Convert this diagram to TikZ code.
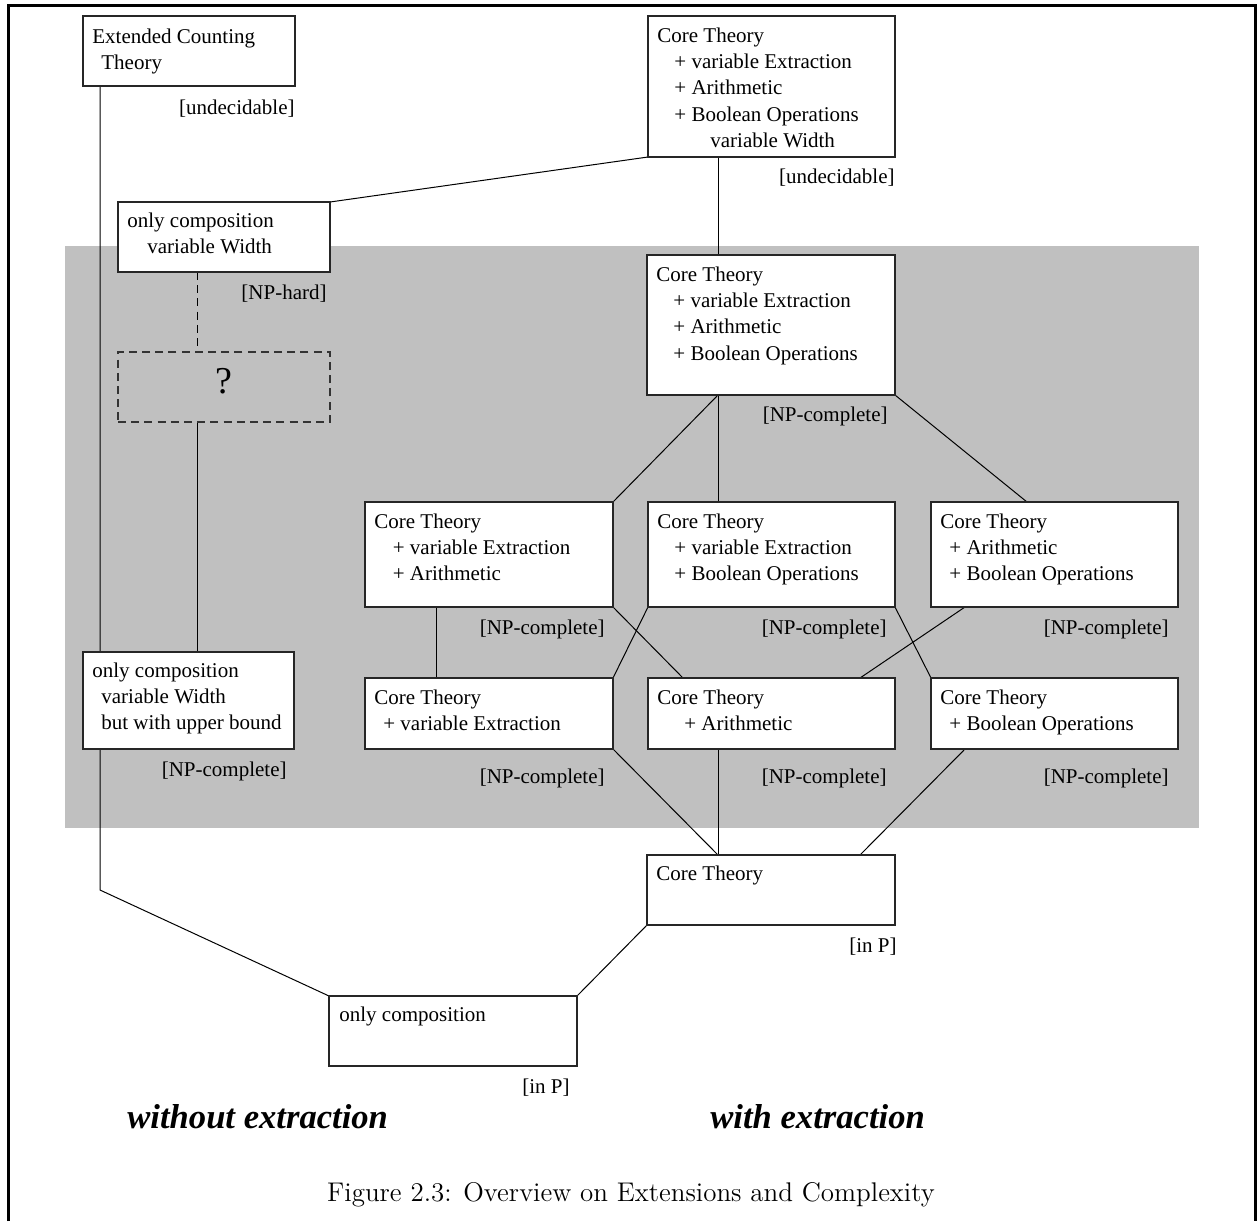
\documentclass[tikz,border=0pt]{standalone}
\usepackage{fontspec}
\newfontfamily\tnr{Liberation Serif}
\usetikzlibrary{fit,calc}
\definecolor{panel}{RGB}{192,192,192}
\pgfdeclarelayer{shade}
\pgfdeclarelayer{wires}
\pgfsetlayers{shade,wires,main}
% stacked, left aligned text lines; baseline of the block is its first line
\newcommand\stack[1]{\vtop{#1}}
\newcommand\row[2][0]{\hbox{\hskip#1pt\relax #2}}
\tikzset{
  box/.style={draw=black!85, line width=0.55pt, fill=white, inner sep=0pt, outer sep=0pt},
  qbox/.style={draw=black!80, line width=0.55pt, dash pattern=on 4pt off 2.6pt, inner sep=0pt, outer sep=0pt},
  body/.style={anchor=base west, inner sep=0pt, font=\tnr\fontsize{10.5}{13.2}\selectfont},
  verdict/.style={anchor=base east, inner sep=0pt, font=\tnr\fontsize{10.5}{13.2}\selectfont},
  link/.style={line width=0.5pt, black},
  dlink/.style={link, dash pattern=on 4pt off 2.6pt},
  side/.style={anchor=base west, inner sep=0pt, font=\tnr\bfseries\itshape\fontsize{17.3}{20}\selectfont},
}
\begin{document}
\begin{tikzpicture}[x=0.5pt, y=-0.5pt]
\useasboundingbox (0,0) rectangle (1257,1221);

% outer frame (open at the bottom)
\draw[line width=1.5pt] (8.7,1221) -- (8.7,5.3) -- (1255.5,5.3) -- (1255.5,1221);

% shaded NP region
\begin{pgfonlayer}{shade}
  \fill[panel] (65,246) rectangle (1199,828);
\end{pgfonlayer}

% boxes
\node[box, fit={(83,16)(295,86)}] (ect) {};
\node[box, fit={(648,16)(895,157)}] (tc) {};
\node[box, fit={(118,202)(330,272)}] (ocvw) {};
\node[qbox, fit={(118,352)(330,422)}] (unk) {};
\node[box, fit={(83,652)(294,749)}] (ocub) {};
\node[box, fit={(647,255)(895,395)}] (vab) {};
\node[box, fit={(365,502)(613,607)}] (va) {};
\node[box, fit={(648,502)(895,607)}] (vb) {};
\node[box, fit={(931,502)(1178,607)}] (ab) {};
\node[box, fit={(365,678)(613,749)}] (v) {};
\node[box, fit={(648,678)(895,749)}] (a) {};
\node[box, fit={(931,678)(1178,749)}] (b) {};
\node[box, fit={(647,855)(895,925)}] (core) {};
\node[box, fit={(329,996)(577,1066)}] (oc) {};

% box contents
\node[body] (ect-t) at ($(ect.north west)+(9,27)$) {\stack{\row{Extended Counting}\row[4.5]{Theory}}};
\node[body] (tc-t) at ($(tc.north west)+(9,26)$) {\stack{\row{Core Theory}\row[8.5]{+ variable Extraction}\row[8.5]{+ Arithmetic}\row[8.5]{+ Boolean Operations}\row[26.5]{variable Width}}};
\node[body] (ocvw-t) at ($(ocvw.north west)+(9,25)$) {\stack{\row{only composition}\row[10]{variable Width}}};
\node[font=\tnr\fontsize{19}{22}\selectfont, inner sep=0pt] (unk-t) at ($(unk.center)+(0,-6)$) {?};
\node[body] (ocub-t) at ($(ocub.north west)+(9,25)$) {\stack{\row{only composition}\row[4.5]{variable Width}\row[4.5]{but with upper bound}}};
\node[body] (vab-t) at ($(vab.north west)+(9,26)$) {\stack{\row{Core Theory}\row[8.5]{+ variable Extraction}\row[8.5]{+ Arithmetic}\row[8.5]{+ Boolean Operations}}};
\node[body] (va-t) at ($(va.north west)+(9,26)$) {\stack{\row{Core Theory}\row[9.25]{+ variable Extraction}\row[9.25]{+ Arithmetic}}};
\node[body] (vb-t) at ($(vb.north west)+(9,26)$) {\stack{\row{Core Theory}\row[8.5]{+ variable Extraction}\row[8.5]{+ Boolean Operations}}};
\node[body] (ab-t) at ($(ab.north west)+(9,26)$) {\stack{\row{Core Theory}\row[4.5]{+ Arithmetic}\row[4.5]{+ Boolean Operations}}};
\node[body] (v-t) at ($(v.north west)+(9,26)$) {\stack{\row{Core Theory}\row[4.5]{+ variable Extraction}}};
\node[body] (a-t) at ($(a.north west)+(9,26)$) {\stack{\row{Core Theory}\row[13.5]{+ Arithmetic}}};
\node[body] (b-t) at ($(b.north west)+(9,26)$) {\stack{\row{Core Theory}\row[4.5]{+ Boolean Operations}}};
\node[body] (core-t) at ($(core.north west)+(9,25)$) {Core Theory};
\node[body] (oc-t) at ($(oc.north west)+(10,25)$) {only composition};

% complexity verdicts
\node[verdict] (ect-v) at ($(ect.south east)+(0,28)$) {[undecidable]};
\node[verdict] (tc-v) at ($(tc.south east)+(0,26)$) {[undecidable]};
\node[verdict] (ocvw-v) at ($(ocvw.south east)+(-3,27)$) {[NP-hard]};
\node[verdict] (ocub-v) at ($(ocub.south east)+(-7,27)$) {[NP-complete]};
\node[verdict] (vab-v) at ($(vab.south east)+(-7,26)$) {[NP-complete]};
\node[verdict] (va-v) at ($(va.south east)+(-8,27)$) {[NP-complete]};
\node[verdict] (vb-v) at ($(vb.south east)+(-8,27)$) {[NP-complete]};
\node[verdict] (ab-v) at ($(ab.south east)+(-9,27)$) {[NP-complete]};
\node[verdict] (v-v) at ($(v.south east)+(-8,34)$) {[NP-complete]};
\node[verdict] (a-v) at ($(a.south east)+(-8,34)$) {[NP-complete]};
\node[verdict] (b-v) at ($(b.south east)+(-9,34)$) {[NP-complete]};
\node[verdict] (core-v) at ($(core.south east)+(2,27)$) {[in P]};
\node[verdict] (oc-v) at ($(oc.south east)+(-7,27)$) {[in P]};

% connectors, drawn beneath the boxes
\coordinate (bend) at (100,890);
\begin{pgfonlayer}{wires}
  \draw[link] ($(ect.south west)+(17,0)$) -- (bend) -- (oc.north west);
  \draw[link] (ocvw.north east) -- (tc.south west);
  \draw[link] ($(tc.south west)+(70,0)$) -- ($(vab.north west)+(71,0)$);
  \draw[dlink] ($(ocvw.south west)+(79,0)$) -- ($(unk.north west)+(79,0)$);
  \draw[link] ($(unk.south west)+(79,0)$) -- ($(ocub.north west)+(114,0)$);
  \draw[link] ($(vab.south west)+(71,0)$) -- (va.north east);
  \draw[link] ($(vab.south west)+(71,0)$) -- ($(vb.north west)+(70,0)$);
  \draw[link] (vab.south east) -- ($(ab.north west)+(96,0)$);
  \draw[link] ($(va.south west)+(71,0)$) -- ($(v.north west)+(71,0)$);
  \draw[link] (va.south east) -- ($(a.north west)+(35,0)$);
  \draw[link] (vb.south west) -- (v.north east);
  \draw[link] (vb.south east) -- (b.north west);
  \draw[link] ($(ab.south west)+(34,0)$) -- ($(a.north west)+(212,0)$);
  \draw[link] (v.south east) -- ($(core.north west)+(71,0)$);
  \draw[link] ($(a.south west)+(70,0)$) -- ($(core.north west)+(71,0)$);
  \draw[link] ($(b.south west)+(34,0)$) -- ($(core.north west)+(213,0)$);
  \draw[link] (core.south west) -- (oc.north east);
\end{pgfonlayer}

% side headings and caption
\node[side] (wo) at (127,1128) {without extraction};
\node[side] (wi) at (710,1128) {with extraction};
\node[anchor=base, inner sep=0pt, font=\fontsize{13.5}{16}\selectfont] (cap) at (631,1201) {Figure 2.3: Overview on Extensions and Complexity};
\end{tikzpicture}
\end{document}
